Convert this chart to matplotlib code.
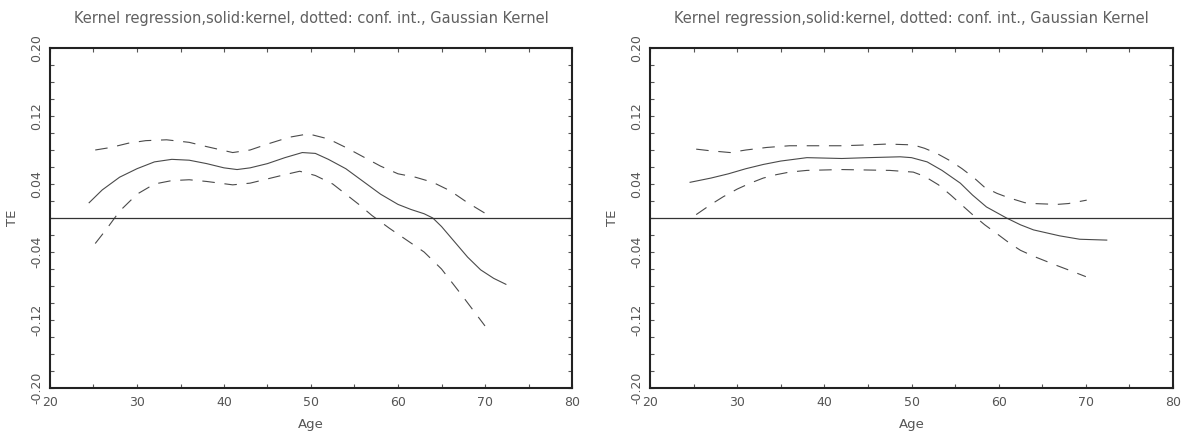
import matplotlib
matplotlib.use("Agg")
import matplotlib.pyplot as plt
from matplotlib.ticker import MultipleLocator, FormatStrFormatter

plt.rcParams['lines.scale_dashes'] = False

# kernel estimate and confidence band, first sample
age_l = [24.5, 26, 28, 30, 32, 34, 36, 38, 40, 41.5, 43, 45, 47, 49, 50.5, 52, 54, 56,
         58, 60, 61.5, 63, 64, 65, 66.5, 68, 69.5, 71, 72.4]
te_l = [0.018, 0.033, 0.048, 0.058, 0.066, 0.069, 0.068, 0.064, 0.059, 0.057, 0.059,
        0.064, 0.071, 0.077, 0.076, 0.069, 0.058, 0.043, 0.028, 0.016, 0.010, 0.005,
        0.000, -0.010, -0.028, -0.046, -0.061, -0.071, -0.078]
up_age_l = [25.2, 27, 29, 31, 33.4, 36, 38, 41, 43, 45, 47.5, 49.7, 52, 54, 56, 58, 60,
            62, 64, 66, 68, 70.1]
up_l = [0.080, 0.083, 0.088, 0.091, 0.092, 0.089, 0.084, 0.077, 0.080, 0.087, 0.095,
        0.099, 0.093, 0.083, 0.072, 0.061, 0.052, 0.048, 0.042, 0.032, 0.018, 0.005]
lo_age_l = [25.2, 26.5, 28, 30, 32, 34, 36, 38, 41, 43, 45, 47, 48.7, 50.5, 52.5, 54,
            55.5, 57, 59, 61, 63, 65, 67.5, 70]
lo_l = [-0.030, -0.013, 0.008, 0.028, 0.040, 0.044, 0.045, 0.043, 0.039, 0.041, 0.046,
        0.051, 0.055, 0.050, 0.040, 0.028, 0.016, 0.003, -0.012, -0.026, -0.040,
        -0.060, -0.093, -0.127]

# second sample
age_r = [24.6, 27, 29, 31, 33, 35, 38, 42, 45, 48.7, 50, 51.8, 53.5, 55.6, 57, 58.6,
         60.9, 62.5, 64, 67, 69.3, 72.4]
te_r = [0.042, 0.047, 0.052, 0.058, 0.063, 0.067, 0.071, 0.070, 0.071, 0.072, 0.071,
        0.066, 0.056, 0.041, 0.027, 0.013, 0.000, -0.008, -0.014, -0.021, -0.025, -0.026]
up_age_r = [25.3, 27, 29.2, 31, 33.4, 36, 38, 42, 45, 47.2, 50.2, 51.5, 52.9, 54.5,
            55.8, 57.2, 58.4, 59.8, 61.1, 63, 64, 66.7, 68, 70.1]
up_r = [0.081, 0.079, 0.077, 0.080, 0.083, 0.085, 0.085, 0.085, 0.086, 0.087, 0.086,
        0.082, 0.076, 0.067, 0.058, 0.047, 0.036, 0.029, 0.024, 0.018, 0.017, 0.016,
        0.017, 0.021]
lo_age_r = [25.3, 27, 28.4, 30, 31.5, 33, 34.5, 36, 38, 42, 47.5, 50.2, 51.5, 53.1,
            54.5, 55.8, 57, 58.4, 60, 61.3, 62.5, 64, 66.7, 68.5, 70]
lo_r = [0.004, 0.016, 0.025, 0.034, 0.041, 0.047, 0.051, 0.054, 0.056, 0.057, 0.056,
        0.054, 0.049, 0.039, 0.027, 0.015, 0.004, -0.008, -0.020, -0.030, -0.038,
        -0.045, -0.056, -0.063, -0.069]

title = "Kernel regression,solid:kernel, dotted: conf. int., Gaussian Kernel"
txt = '#555555'
ln = '#4a4a4a'

fig = plt.figure(figsize=(11.83, 4.38), dpi=100)
ax1 = fig.add_axes([50 / 1183, 50 / 438, 522 / 1183, 340 / 438])
ax2 = fig.add_axes([650 / 1183, 50 / 438, 523 / 1183, 340 / 438])

panels = [
    (ax1, age_l, te_l, up_age_l, up_l, lo_age_l, lo_l),
    (ax2, age_r, te_r, up_age_r, up_r, lo_age_r, lo_r),
]
for ax, a, t, ua, u, la, lo in panels:
    ax.plot(a, t, color=ln, lw=0.8)
    ax.plot(ua, u, color=ln, lw=0.8, dashes=(9, 7))
    ax.plot(la, lo, color=ln, lw=0.8, dashes=(9, 7))
    ax.axhline(0, color='#333333', lw=0.9)

    ax.set_xlim(20, 80)
    ax.set_ylim(-0.2, 0.2)
    ax.xaxis.set_major_locator(MultipleLocator(10))
    ax.xaxis.set_minor_locator(MultipleLocator(5))
    ax.yaxis.set_minor_locator(MultipleLocator(0.02))
    ax.yaxis.set_major_formatter(FormatStrFormatter('%.2f'))
    ax.set_yticks([-0.2, -0.12, -0.04, 0.04, 0.12, 0.2])
    ax.tick_params(which='both', direction='in', top=True, right=True,
                   length=3, width=0.8, color='#555555', labelcolor=txt,
                   labelsize=9)
    ax.tick_params(axis='x', pad=6)
    ax.tick_params(axis='y', pad=5)
    for lab in ax.get_yticklabels():
        lab.set_rotation(90)
        lab.set_va('center')
    for sp in ax.spines.values():
        sp.set_linewidth(1.5)
        sp.set_color('#222222')

    ax.set_xlabel('Age', color=txt, fontsize=9.5, labelpad=6)
    ax.set_ylabel('TE', color=txt, fontsize=9.5, labelpad=8)
    ax.set_title(title, color='#606060', fontsize=10.5, pad=18)

fig.savefig('out.png', dpi=100)
